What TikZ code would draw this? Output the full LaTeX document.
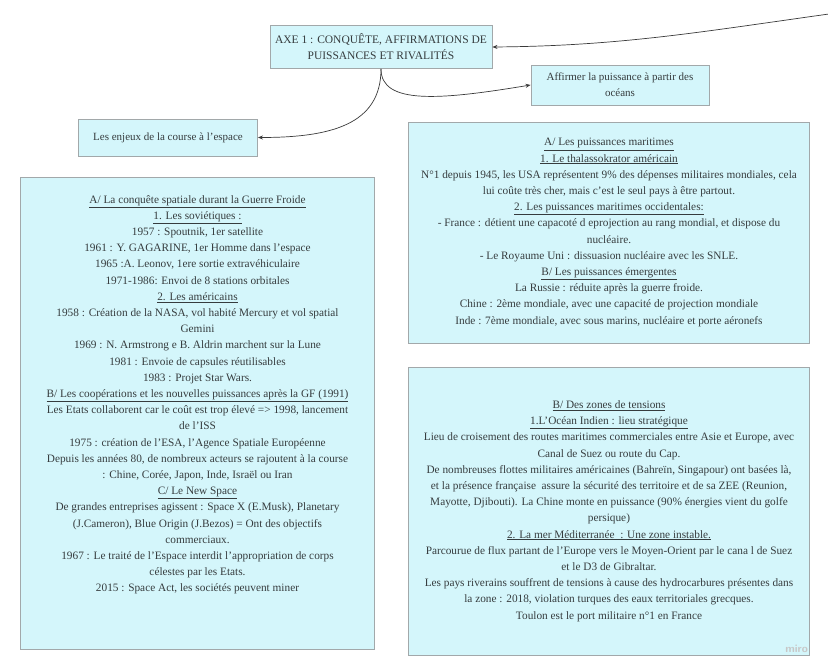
\documentclass[tikz,border=0pt]{standalone}
\usepackage{fontspec}
\setmainfont{Liberation Serif}
\usetikzlibrary{arrows.meta}
\definecolor{boxfill}{HTML}{D4F6FB}
\definecolor{boxline}{HTML}{A2A8AA}
\definecolor{txt}{HTML}{363C3E}
\definecolor{linkc}{HTML}{3A3A3A}
\begin{document}
\begin{tikzpicture}[x=1pt,y=-1pt,
  box/.style={draw=boxline, fill=boxfill, line width=0.9pt, inner sep=0pt},
  body/.style={text=txt, align=center, font=\fontsize{11.3}{16.2}\selectfont, inner sep=0pt},
  link/.style={draw=linkc, line width=0.7pt, -{Stealth[length=5pt,width=4pt]}}]
\useasboundingbox[fill=white] (0,0) rectangle (828,671);

% title box
\node[box, body, font=\fontsize{11.5}{16.2}\selectfont, minimum width=222pt, minimum height=43pt] (axe) at (381,47)
  {AXE 1 : CONQUÊTE, AFFIRMATIONS DE\\PUISSANCES ET RIVALITÉS};

\node[box, body, font=\fontsize{11}{16}\selectfont, minimum width=178pt, minimum height=40pt] (affirm) at (620,85)
  {Affirmer la puissance à partir des\\océans};

\node[box, body, font=\fontsize{11}{16}\selectfont, minimum width=179pt, minimum height=37pt] (enjeux) at (168,137.5)
  {Les enjeux de la course à l'espace};

% big boxes
\node[box, minimum width=354pt, minimum height=472pt] (conq) at (197.5,413) {};
\node[body, anchor=north] (conqtext) at (197.5,195) {%
\underline{A/ La conquête spatiale durant la Guerre Froide}\\
\underline{1. Les soviétiques :}\\
1957 : Spoutnik, 1er satellite\\
1961 : Y. GAGARINE, 1er Homme dans l'espace\\
1965 :A. Leonov, 1ere sortie extravéhiculaire\\
1971-1986: Envoi de 8 stations orbitales\\
\underline{2. Les américains}\\
1958 : Création de la NASA, vol habité Mercury et vol spatial\\
Gemini\\
1969 : N. Armstrong e B. Aldrin marchent sur la Lune\\
1981 : Envoie de capsules réutilisables\\
1983 : Projet Star Wars.\\
\underline{B/ Les coopérations et les nouvelles puissances après la GF (1991)}\\
Les Etats collaborent car le coût est trop élevé => 1998, lancement\\
de l'ISS\\
1975 : création de l'ESA, l'Agence Spatiale Européenne\\
Depuis les années 80, de nombreux acteurs se rajoutent à la course\\
: Chine, Corée, Japon, Inde, Israël ou Iran\\
\underline{C/ Le New Space}\\
De grandes entreprises agissent : Space X (E.Musk), Planetary\\
(J.Cameron), Blue Origin (J.Bezos) = Ont des objectifs\\
commerciaux.\\
1967 : Le traité de l'Espace interdit l'appropriation de corps\\
célestes par les Etats.\\
2015 : Space Act, les sociétés peuvent miner};

\node[box, body, minimum width=401pt, minimum height=221pt] (mari) at (609,232.5) {%
\underline{A/ Les puissances maritimes}\\
\underline{1. Le thalassokrator américain}\\
N°1 depuis 1945, les USA représentent 9\% des dépenses militaires mondiales, cela\\
lui coûte très cher, mais c'est le seul pays à être partout.\\
\underline{2. Les puissances maritimes occidentales:}\\
- France : détient une capacoté d eprojection au rang mondial, et dispose du\\
nucléaire.\\
- Le Royaume Uni : dissuasion nucléaire avec les SNLE.\\
\underline{B/ Les puissances émergentes}\\
La Russie : réduite après la guerre froide.\\
Chine : 2ème mondiale, avec une capacité de projection mondiale\\
Inde : 7ème mondiale, avec sous marins, nucléaire et porte aéronefs};

\node[box, body, minimum width=401pt, minimum height=288pt] (tens) at (609,511) {%
\underline{B/ Des zones de tensions}\\
\underline{1.L'Océan Indien : lieu stratégique}\\
Lieu de croisement des routes maritimes commerciales entre Asie et Europe, avec\\
Canal de Suez ou route du Cap.\\
De nombreuses flottes militaires américaines (Bahreïn, Singapour) ont basées là,\\
et la présence française\ \ assure la sécurité des territoire et de sa ZEE (Reunion,\\
Mayotte, Djibouti). La Chine monte en puissance (90\% énergies vient du golfe\\
persique)\\
\underline{2. La mer Méditerranée\ \ : Une zone instable.}\\
Parcourue de flux partant de l'Europe vers le Moyen-Orient par le cana l de Suez\\
et le D3 de Gibraltar.\\
Les pays riverains souffrent de tensions à cause des hydrocarbures présentes dans\\
la zone : 2018, violation turques des eaux territoriales grecques.\\
Toulon est le port militaire n°1 en France};

\node[text=black!22, font=\sffamily\bfseries\fontsize{11}{12}\selectfont, anchor=south east, inner sep=0pt] (miro) at (808,653) {miro};

% connectors
\coordinate (src) at (829,14);
\draw[link] (src) .. controls (700,32) and (620,46) .. (axe.east);
\draw[link] (axe.south) .. controls (381,105) and (440,100) .. (affirm.west);
\draw[link] (axe.south) .. controls (381,125) and (330,137.5) .. (enjeux.east);
\end{tikzpicture}
\end{document}
